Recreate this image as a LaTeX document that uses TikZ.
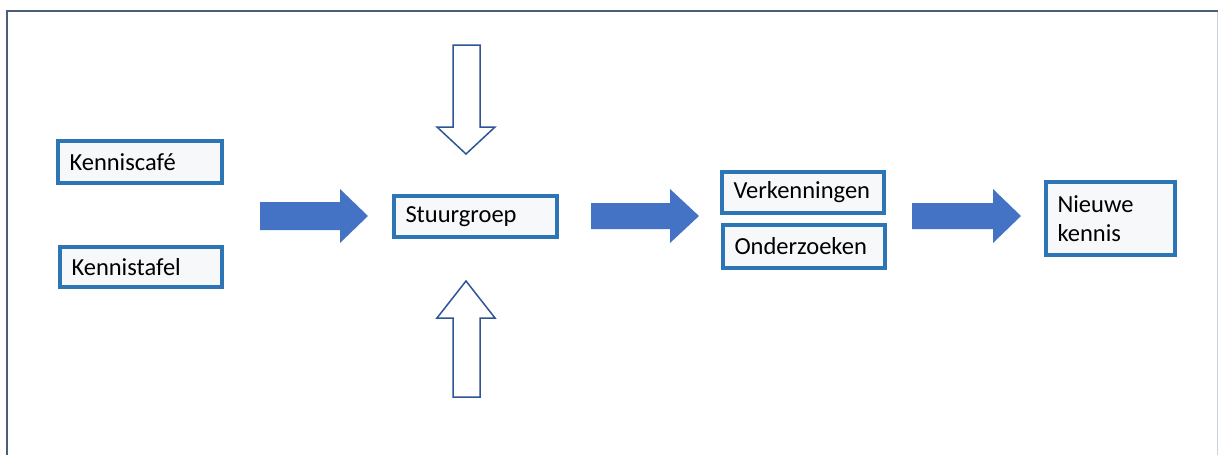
\documentclass[tikz,border=0pt]{standalone}
\usepackage{fontspec}
\setmainfont{Carlito}
\usetikzlibrary{shadows}
\definecolor{boxblue}{HTML}{2E75B6}
\definecolor{boxfill}{HTML}{F6F8FA}
\definecolor{arrowblue}{HTML}{4472C4}
\definecolor{hollowblue}{HTML}{2F5597}
\definecolor{framecol}{HTML}{4A5E78}
\definecolor{framelight}{HTML}{C9D2DE}
\tikzset{
  infobox/.style={draw=boxblue, line width=3.2pt, fill=boxfill, rectangle,
    inner sep=0pt, align=left, font=\fontsize{24.5}{29}\selectfont,
    drop shadow={shadow xshift=1.5pt, shadow yshift=-1.5pt, opacity=0.25, fill=black!60}},
  solidarrow/.style={fill=arrowblue, draw=none},
  hollowarrow/.style={draw=hollowblue, line width=1.5pt, fill=white, line join=miter},
}
% #1 left x, #2 top y, #3 right x, #4 bottom y (pixel coords), #5 name, #6 text
\newcommand{\mybox}[6]{%
  \node[infobox, minimum width={(#3-#1)*1pt}, minimum height={(#4-#2)*1pt},
        text width={(#3-#1-23)*1pt}] (#5) at ({(#1+#3)/2},{(#2+#4)/2}) {#6};}
\begin{document}
\begin{tikzpicture}[x=1pt, y=-1pt]
\useasboundingbox (0,0) rectangle (1219,455);
\fill[white] (0,0) rectangle (1219,455);
% frame
\draw[framelight, line width=1.5pt] (1217.5,11) -- (1217.5,455);
\draw[framecol, line width=2pt] (7,455) -- (7,11) -- (1218,11);

% boxes
\mybox{58}{141}{222}{183}{cafe}{Kenniscafé}
\mybox{60}{247}{222}{287}{tafel}{Kennistafel}
\mybox{394}{196}{557}{237}{stuur}{Stuurgroep}
\mybox{722}{172}{884}{213}{verk}{Verkenningen}
\mybox{723}{225}{885}{268}{onder}{Onderzoeken}
\node[infobox, minimum width=129pt, minimum height=73pt, text width=106pt] (nieuw) at (1110.5,218.5) {Nieuwe\\kennis};

% solid block arrows
\coordinate (a1) at (260,216);
\fill[solidarrow] (a1) ++(0,-14) -- ++(80,0) -- ++(0,-13) -- (368,216) -- (340,243) -- (340,230) -- (260,230) -- cycle;
\coordinate (a2) at (591,216);
\fill[solidarrow] (a2) ++(0,-13) -- ++(79,0) -- ++(0,-14) -- (699,216) -- (670,243) -- (670,229) -- (591,229) -- cycle;
\coordinate (a3) at (912,216);
\fill[solidarrow] (a3) ++(0,-13) -- ++(81,0) -- ++(0,-14) -- (1021,216) -- (993,243) -- (993,229) -- (912,229) -- cycle;

% hollow arrows
\coordinate (top) at (466,154);
\draw[hollowarrow] (453,45) -- (480,45) -- (480,127) -- (495,127) -- (top) -- (437,127) -- (453,127) -- cycle;
\coordinate (bot) at (466,281);
\draw[hollowarrow] (453,397) -- (480,397) -- (480,318) -- (495,318) -- (bot) -- (437,318) -- (453,318) -- cycle;
\end{tikzpicture}
\end{document}
